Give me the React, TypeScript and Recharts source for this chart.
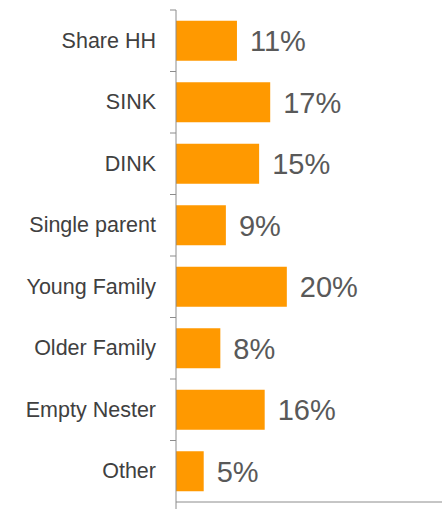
import React from "react";
import { BarChart, Bar, XAxis, YAxis, LabelList } from "recharts";

const categories = ["Share HH", "SINK", "DINK", "Single parent", "Young Family", "Older Family", "Empty Nester", "Other"];
const shares = [11, 17, 15, 9, 20, 8, 16, 5];

const data = categories.map((c, i) => ({ name: c, value: shares[i] }));

const FONT = "'Liberation Sans', Arial, sans-serif";

const CategoryTick = (props: any) => {
  const { x, y, payload, index } = props;
  const half = payload && payload.offset ? payload.offset : 30.75;
  const axisX = x;
  return (
    <g>
      <text
        x={axisX - 20}
        y={y}
        dy={7}
        textAnchor="end"
        fill="#404040"
        fontSize={21.5}
        fontFamily={FONT}
      >
        {payload.value}
      </text>
      <line x1={axisX - 6} x2={axisX} y1={y - half} y2={y - half} stroke="#8c8c8c" strokeWidth={1} />
      {index === categories.length - 1 ? (
        <line x1={axisX} x2={axisX} y1={y + half} y2={y + half + 7} stroke="#8c8c8c" strokeWidth={1} />
      ) : null}
    </g>
  );
};

const fmt = (v: any) => `${v}%`;

export default function App() {
  return (
    <div style={{ position: "absolute", left: 0, top: 0, background: "#fff" }}>
      <BarChart
        width={442}
        height={509}
        data={data}
        layout="vertical"
        margin={{ top: 10, right: 0, bottom: 0, left: 0 }}
        barCategoryGap="17.5%"
      >
        <XAxis
          type="number"
          domain={[0, 48]}
          height={7}
          tick={false}
          tickLine={false}
          axisLine={{ stroke: "#8c8c8c" }}
        />
        <YAxis
          type="category"
          dataKey="name"
          width={176}
          tickLine={false}
          tickSize={0}
          tickMargin={0}
          axisLine={{ stroke: "#8c8c8c" }}
          tick={<CategoryTick />}
          interval={0}
        />
        <Bar dataKey="value" fill="#FF9900" isAnimationActive={false}>
          <LabelList
            dataKey="value"
            position="right"
            offset={13}
            formatter={fmt}
            fill="#595959"
            fontSize={29}
            fontFamily={FONT}
          />
        </Bar>
      </BarChart>
    </div>
  );
}
